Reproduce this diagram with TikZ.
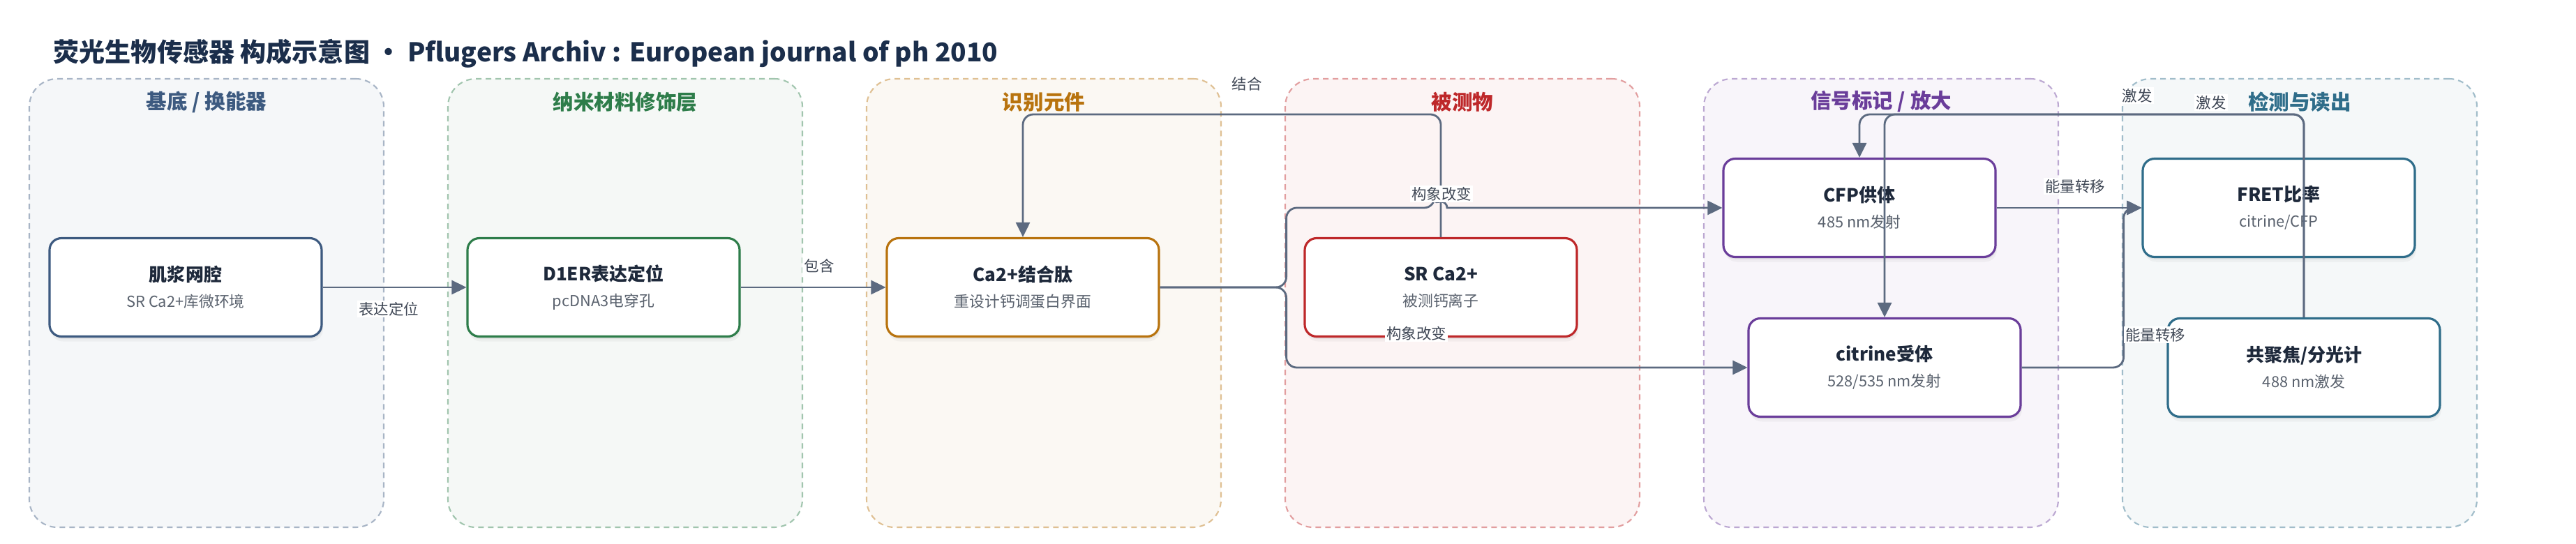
\documentclass[tikz,border=0pt]{standalone}
\usepackage{fontspec}
\setmainfont{Noto Sans CJK SC}
\usetikzlibrary{arrows.meta, positioning, shadows, calc}

\definecolor{edgegray}{RGB}{92,106,128}
\definecolor{txtdark}{RGB}{30,41,59}
\definecolor{txtsub}{RGB}{90,98,110}
\definecolor{lbltxt}{RGB}{64,72,86}
\definecolor{titlenavy}{RGB}{27,46,75}
\definecolor{cSub}{RGB}{61,90,128}
\definecolor{cNano}{RGB}{46,125,74}
\definecolor{cRec}{RGB}{184,115,14}
\definecolor{cAna}{RGB}{190,40,42}
\definecolor{cSig}{RGB}{106,61,154}
\definecolor{cDet}{RGB}{47,109,138}

\newcommand{\twoline}[2]{{\bfseries\color{txtdark}\fontsize{7.4}{10.6}\selectfont #1}\\{\color{txtsub}\fontsize{6.2}{10.6}\selectfont #2}}

\begin{document}
\begin{tikzpicture}
	[%
	grp/.style   ={rectangle,	rounded corners=0.4cm,	draw=#1!45,	fill=#1!5,	line width=0.6pt,	dash pattern=on 0.08cm off 0.06cm,	minimum width=5.08cm,	minimum height=6.43cm},%
	grptitle/.style={font=\bfseries\fontsize{8.4}{10}\selectfont,	text=#1},%
	blk/.style   ={rectangle,	rounded corners=0.17cm,	draw=#1,	fill=white,	line width=0.9pt,	minimum width=3.9cm,	minimum height=1.41cm,	align=center,	font=\fontsize{7}{10.6}\selectfont,%
		drop shadow={opacity=0.07, shadow xshift=0.02cm, shadow yshift=-0.07cm},%
		drop shadow={opacity=0.10, shadow xshift=0.01cm, shadow yshift=-0.035cm}},%
	conn/.style  ={draw=edgegray,	line width=0.8pt,	rounded corners=0.15cm,	-{Triangle[length=0.21cm, width=0.2cm]}},%
	lbl/.style   ={fill=white,	inner sep=0.6pt,	text=lbltxt,	font=\fontsize{6.1}{7}\selectfont},%
	]

	\useasboundingbox (0,0) rectangle (36.92,7.79);
	\fill [white] (0,0) rectangle (36.92,7.79);

	\newcommand{\rowmid}{3.67}
	\newcommand{\rowup}{4.81}
	\newcommand{\rowlow}{2.52}

	% title
	\node (title) [anchor=west, inner sep=0pt, text=titlenavy, font=\bfseries\fontsize{10.55}{13}\selectfont] at (0.76,7.02) {荧光生物传感器 构成示意图 · Pflugers Archiv : European journal of ph 2010};

	% groups
	\foreach \i/\gx/\gc/\gt in {1/2.96/cSub/{基底 / 换能器}, 2/8.96/cNano/{纳米材料修饰层}, 3/14.96/cRec/{识别元件}, 4/20.96/cAna/{被测物}, 5/26.96/cSig/{信号标记 / 放大}, 6/32.96/cDet/{检测与读出}}%
	{
		\node (grp\i) [grp=\gc] at (\gx,3.445) {};
		\node (grptitle\i) [grptitle=\gc] at (\gx,6.33) {\gt};
	}

	% nodes
	\node (lumen)    [blk=cSub]  at (2.66,\rowmid)  {\twoline{肌浆网腔}{SR Ca2+库微环境}};
	\node (dier)     [blk=cNano] at (8.65,\rowmid)  {\twoline{D1ER表达定位}{pcDNA3电穿孔}};
	\node (peptide)  [blk=cRec]  at (14.66,\rowmid) {\twoline{Ca2+结合肽}{重设计钙调蛋白界面}};
	\node (srca)     [blk=cAna]  at (20.65,\rowmid) {\twoline{SR Ca2+}{被测钙离子}};
	\node (cfp)      [blk=cSig]  at (26.65,\rowup)  {\twoline{CFP供体}{485 nm发射}};
	\node (citrine)  [blk=cSig]  at (27.01,\rowlow) {\twoline{citrine受体}{528/535 nm发射}};
	\node (fret)     [blk=cDet]  at (32.66,\rowup)  {\twoline{FRET比率}{citrine/CFP}};
	\node (confocal) [blk=cDet]  at (33.02,\rowlow) {\twoline{共聚焦/分光计}{488 nm激发}};

	% interconnections
	\coordinate (rail) at (0,6.15);
	\draw [conn] (lumen.east) -- (dier.west);
	\draw [conn] (dier.east) -- (peptide.west);
	\draw [conn] (srca.north) -- (srca.north |- rail) -| (peptide.north);
	\draw [conn] (peptide.east) -- ++(1.81,0) |- ($(srca.north |- cfp.west)+(-0.09,0)$) [sharp corners] arc (180:0:0.09) -- (cfp.west);
	\draw [conn] (peptide.east) -- ++(1.81,0) |- (citrine.west);
	\draw [conn] (cfp.east) -- (fret.west);
	\draw [conn] (citrine.east) -- ++(1.46,0) |- (fret.west);
	\draw [conn] (confocal.north) -- (confocal.north |- rail) -| (cfp.north);
	\draw [conn] (confocal.north) -- (confocal.north |- rail) -| (citrine.north);

	% labels
	\node (lblExpr)  [lbl] at (5.57,3.36)  {表达定位};
	\node (lblHold)  [lbl] at (11.74,3.98) {包含};
	\node (lblBind)  [lbl] at (17.87,6.59) {结合};
	\node (lblConfA) [lbl] at (20.66,5.01) {构象改变};
	\node (lblConfB) [lbl] at (20.30,3.01) {构象改变};
	\node (lblEnA)   [lbl] at (29.74,5.12) {能量转移};
	\node (lblEnB)   [lbl] at (30.89,2.99) {能量转移};
	\node (lblExA)   [lbl] at (30.63,6.42) {激发};
	\node (lblExB)   [lbl] at (31.69,6.32) {激发};

\end{tikzpicture}
\end{document}
